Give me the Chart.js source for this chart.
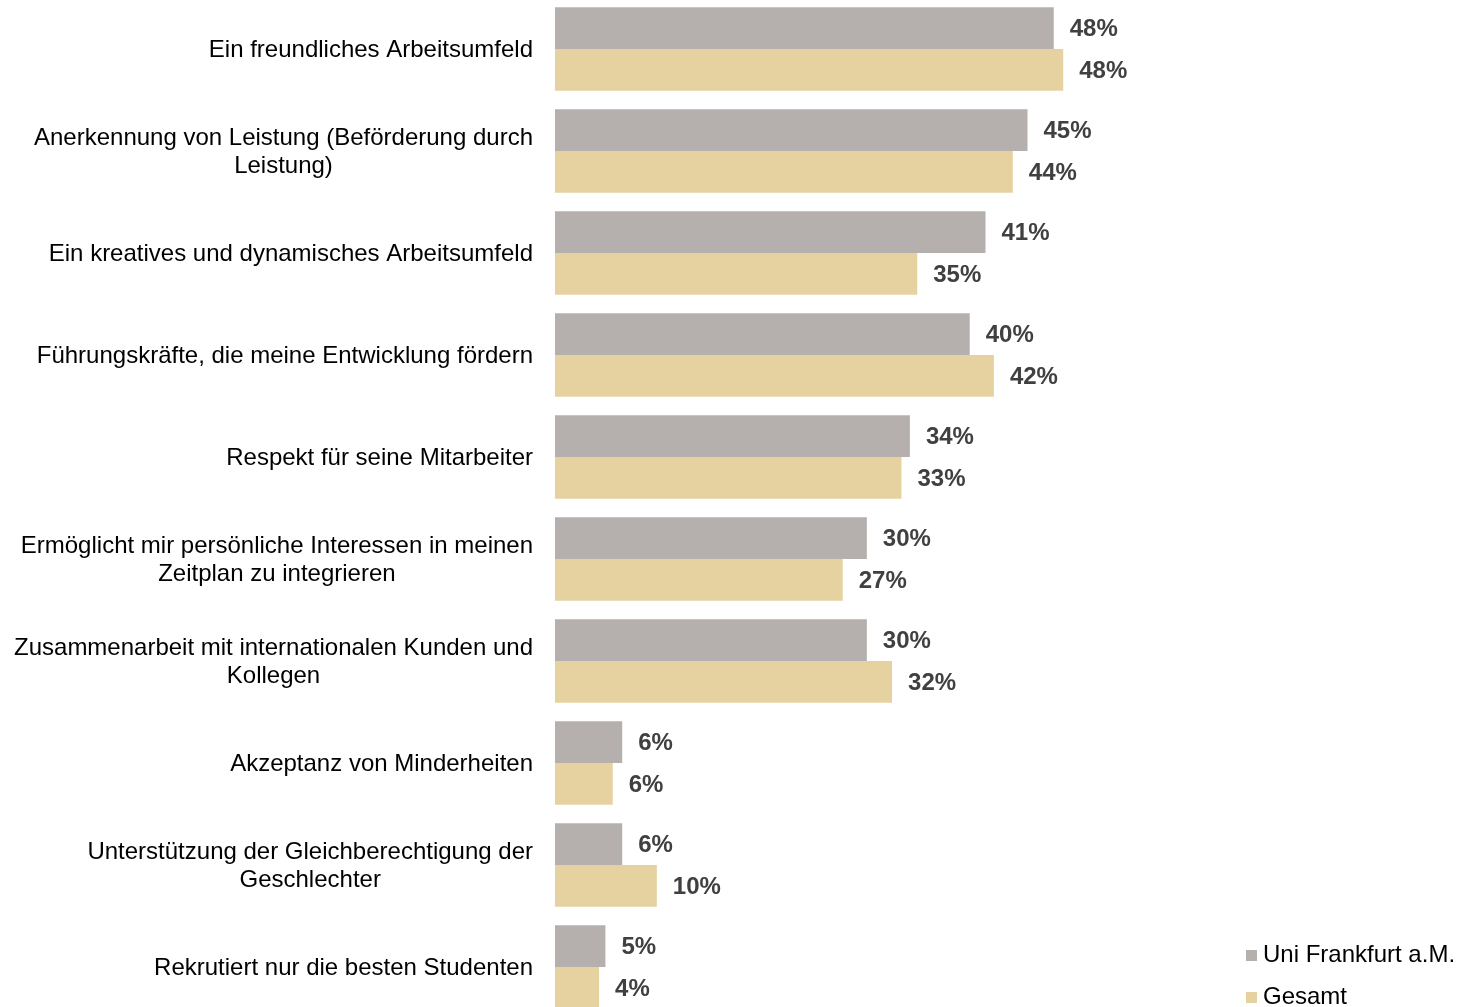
<!DOCTYPE html>
<html>
<head>
<meta charset="utf-8">
<script src="https://cdn.jsdelivr.net/npm/chart.js@4.4.1/dist/chart.umd.min.js"></script>
<style>
  html, body { margin: 0; padding: 0; background: #fff; overflow: hidden; }
  .chart-box { position: absolute; left: 0; top: -2px; width: 1457px; height: 1020px; }
  #legend-container { position: absolute; left: 1246px; top: 933px; }
  #legend-container ul { list-style: none; margin: 0; padding: 0; }
</style>
</head>
<body>
<div class="chart-box">
  <canvas id="chart-main" class="chart-canvas"></canvas>
</div>
<div id="legend-container"></div>
<script>
// categories (multi-line ones are split as in the original)
const categories = [
  ["Ein freundliches Arbeitsumfeld"],
  ["Anerkennung von Leistung (Beförderung durch", "Leistung)"],
  ["Ein kreatives und dynamisches Arbeitsumfeld"],
  ["Führungskräfte, die meine Entwicklung fördern"],
  ["Respekt für seine Mitarbeiter"],
  ["Ermöglicht mir persönliche Interessen in meinen", "Zeitplan zu integrieren"],
  ["Zusammenarbeit mit internationalen Kunden und", "Kollegen"],
  ["Akzeptanz von Minderheiten"],
  ["Unterstützung der Gleichberechtigung der", "Geschlechter"],
  ["Rekrutiert nur die besten Studenten"]
];

const seriesNames = ["Uni Frankfurt a.M.", "Gesamt"];
const uniFrankfurt = [47.5, 45.0, 41.0, 39.5, 33.8, 29.7, 29.7, 6.4, 6.4, 4.8];
const gesamt = [48.4, 43.6, 34.5, 41.8, 33.0, 27.4, 32.1, 5.5, 9.7, 4.2];
const seriesColors = ["#b5b0ad", "#e6d2a0"];

const FONT = "'Liberation Sans', Arial, sans-serif";

// category labels: block right aligned, lines centered inside the block
const categoryLabelsPlugin = {
  id: "categoryLabels",
  afterDraw(chart) {
    const ctx = chart.ctx;
    const yScale = chart.scales.y;
    const right = chart.chartArea.left - 22;
    const lineHeight = 28;
    ctx.save();
    ctx.font = "24px " + FONT;
    ctx.fillStyle = "#000";
    ctx.textAlign = "center";
    ctx.textBaseline = "middle";
    chart.data.labels.forEach((lines, i) => {
      const yc = yScale.getPixelForValue(i) + 1;
      let maxW = 0;
      lines.forEach((l) => { maxW = Math.max(maxW, ctx.measureText(l).width); });
      const cx = right - maxW / 2;
      const top = yc - (lines.length - 1) * lineHeight / 2;
      lines.forEach((l, k) => ctx.fillText(l, cx, top + k * lineHeight));
    });
    ctx.restore();
  }
};

// value labels at the end of every bar
const valueLabelsPlugin = {
  id: "valueLabels",
  afterDatasetsDraw(chart) {
    const ctx = chart.ctx;
    ctx.save();
    ctx.font = "bold 24px " + FONT;
    ctx.fillStyle = "#404040";
    ctx.textAlign = "left";
    ctx.textBaseline = "middle";
    chart.data.datasets.forEach((ds, di) => {
      const meta = chart.getDatasetMeta(di);
      meta.data.forEach((bar, i) => {
        ctx.fillText(Math.round(ds.data[i]) + "%", bar.x + 16, bar.y + 1.5);
      });
    });
    ctx.restore();
  }
};

// html legend like in the dashboards
const htmlLegendPlugin = {
  id: "htmlLegend",
  afterUpdate(chart, args, options) {
    const box = document.getElementById(options.containerID);
    let ul = box.querySelector("ul");
    if (!ul) {
      ul = document.createElement("ul");
      box.appendChild(ul);
    }
    while (ul.firstChild) ul.firstChild.remove();
    chart.data.datasets.forEach((ds) => {
      const li = document.createElement("li");
      li.style.display = "flex";
      li.style.alignItems = "center";
      li.style.height = "42px";
      li.style.font = "24px " + FONT;
      li.style.color = "#000";
      li.style.whiteSpace = "nowrap";

      const boxSpan = document.createElement("span");
      boxSpan.style.display = "inline-block";
      boxSpan.style.width = "11px";
      boxSpan.style.height = "11px";
      boxSpan.style.background = ds.backgroundColor;
      boxSpan.style.marginRight = "6px";
      boxSpan.style.marginTop = "3px";

      li.appendChild(boxSpan);
      li.appendChild(document.createTextNode(ds.label));
      ul.appendChild(li);
    });
  }
};

const ctxMain = document.getElementById("chart-main");
new Chart(ctxMain, {
  type: "bar",
  data: {
    labels: categories,
    datasets: [
      { label: seriesNames[0], data: uniFrankfurt, backgroundColor: seriesColors[0] },
      { label: seriesNames[1], data: gesamt, backgroundColor: seriesColors[1] }
    ]
  },
  options: {
    indexAxis: "y",
    responsive: true,
    maintainAspectRatio: false,
    animation: false,
    layout: { padding: { left: 555, right: 272, top: 0, bottom: 0 } },
    datasets: {
      bar: { categoryPercentage: 0.82, barPercentage: 1.0 }
    },
    scales: {
      x: { display: false, min: 0, max: 60 },
      y: { display: false }
    },
    plugins: {
      legend: { display: false },
      tooltip: { enabled: false },
      htmlLegend: { containerID: "legend-container" }
    }
  },
  plugins: [categoryLabelsPlugin, valueLabelsPlugin, htmlLegendPlugin]
});
</script>
</body>
</html>
